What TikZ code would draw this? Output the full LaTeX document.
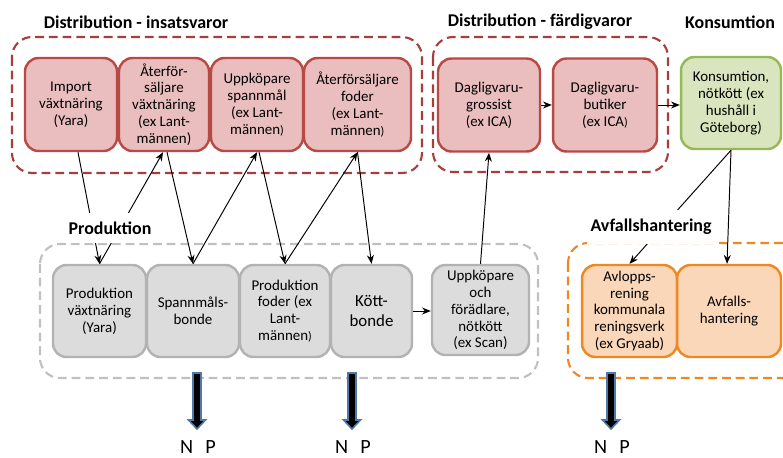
\documentclass[tikz,border=0pt]{standalone}
\usepackage{fontspec}
\setmainfont{Carlito}
\usetikzlibrary{arrows.meta}
\usetikzlibrary{calc}

\definecolor{redfill}{RGB}{234,190,190}
\definecolor{redline}{RGB}{184,74,70}
\definecolor{reddash}{RGB}{166,62,60}
\definecolor{grayfill}{RGB}{220,220,220}
\definecolor{grayline}{RGB}{178,178,178}
\definecolor{graydash}{RGB}{192,192,192}
\definecolor{greenfill}{RGB}{217,229,190}
\definecolor{greenline}{RGB}{152,184,86}
\definecolor{orangefill}{RGB}{251,215,185}
\definecolor{orangeline}{RGB}{238,136,32}
\definecolor{arrowblue}{RGB}{79,121,171}

\tikzset{
  box/.style={rounded corners=0.27cm, line width=1.4pt, align=center, inner sep=1pt,
    font=\fontsize{8.5}{9.6}\selectfont},
  redbox/.style={box, draw=redline, fill=redfill, minimum height=1.86cm},
  greenbox/.style={box, draw=greenline, fill=greenfill, minimum height=1.84cm},
  graybox/.style={box, draw=grayline, fill=grayfill, minimum height=1.84cm},
  orangebox/.style={box, draw=orangeline, fill=orangefill, minimum height=1.84cm},
  group/.style={rounded corners=0.4cm, line width=1.2pt, dash pattern=on 5pt off 2.8pt},
  grouptitle/.style={font=\fontsize{10.2}{12}\selectfont\bfseries, inner xsep=2pt, inner ysep=5pt},
  flow/.style={-{Stealth[length=5pt,width=4pt]}, line width=0.55pt},
  outlet/.style={draw=arrowblue, fill=black, line width=0.9pt, line join=miter},
  nutrient/.style={font=\fontsize{11.5}{13}\selectfont},
}

\begin{document}
\begin{tikzpicture}[x=0.02cm, y=-0.02cm]
\clip (0,0) rectangle (783,457);
% group frames
\draw[group, draw=reddash] (12,37) rectangle (422,173);
\draw[group, draw=reddash] (433,37) rectangle (668,172);
\draw[group, draw=graydash] (40,244) rectangle (538,378);
\draw[group, draw=orangeline] (568,243) rectangle (810,378);
% distribution - insatsvaror
\node[redbox, minimum width=1.84cm] (imp) at (71,104.5) {Import\\växtnäring\\(Yara)};
\node[redbox, minimum width=1.80cm] (afv) at (164,104.5) {Återför-\\säljare\\växtnäring\\(ex Lant-\\männen)};
\node[redbox, minimum width=1.84cm] (upps) at (257,104.5) {Uppköpare\\spannmål\\(ex Lant-\\männen{\scriptsize)}};
\node[redbox, minimum width=2.14cm] (aff) at (357.5,104.5) {Återförsäljare\\foder\\(ex Lant-\\männen{\scriptsize)}};
% distribution - färdigvaror
\node[redbox, minimum width=2.04cm] (gross) at (489,105) {Dagligvaru-\\grossist\\(ex ICA)};
\node[redbox, minimum width=2.08cm] (but) at (605,105) {Dagligvaru-\\butiker\\(ex ICA{\scriptsize)}};
% konsumtion
\node[greenbox, minimum width=2.00cm] (kons) at (731,103) {Konsumtion,\\nötkött (ex\\hushåll i\\Göteborg)};
% produktion
\node[graybox, minimum width=1.86cm] (pvx) at (99.5,311) {Produktion\\växtnäring\\(Yara)};
\node[graybox, minimum width=1.84cm] (spb) at (193,311) {Spannmåls-\\bonde};
\node[graybox, minimum width=1.80cm] (pfo) at (285,311) {Produktion\\foder (ex\\Lant-\\männen{\scriptsize)}};
\node[graybox, minimum width=1.62cm, font=\fontsize{9.6}{11.2}\selectfont] (kob) at (371.5,311) {Kött-\\bonde};
\node[graybox, minimum width=1.94cm, minimum height=1.80cm] (upf) at (480.5,310) {Uppköpare\\och\\förädlare,\\nötkött\\(ex Scan)};
% avfallshantering
\node[orangebox, minimum width=1.90cm] (avl) at (629.5,311) {Avlopps-\\rening\\kommunala\\reningsverk\\(ex Gryaab)};
\node[orangebox, minimum width=2.08cm] (avf) at (729,311) {Avfalls-\\hantering};
% flows
\draw[flow] ($(imp.south)+(7,0)$) to (pvx.north);
\draw[flow] (pvx.north) to ($(afv.south)+(-1,0)$);
\draw[flow] ($(afv.south)+(3,0)$) to (spb.north);
\draw[flow] (spb.north) to (upps.south);
\draw[flow] ($(upps.south)+(2,0)$) to (pfo.north);
\draw[flow] (pfo.north) to (aff.south);
\draw[flow] (aff.south) to (kob.north);
\draw[flow] (kob.east) to (kob.east -| upf.west);
\draw[flow] (upf.north) to (gross.south);
\draw[flow] (gross.east) to (gross.east -| but.west);
\draw[flow] (but.east) to (but.east -| kons.west);
\draw[flow] (kons.south) to (avl.north);
\draw[flow] (kons.south) to ($(avf.north)+(-2,0)$);
% titles
\node[grouptitle] (tins) at (136,22) {Distribution - insatsvaror};
\node[grouptitle] (tfar) at (540,22) {Distribution - färdigvaror};
\node[grouptitle] (tkons) at (730,22) {Konsumtion};
\node[grouptitle, fill=white] (tprod) at (110,228) {Produktion};
\node[grouptitle, fill=white] (tavf) at (651,227) {Avfallshantering};
% outlets
\coordinate (ut1) at (197,373);
\coordinate (ut2) at (352,373);
\coordinate (ut3) at (611,373);
\foreach \u in {ut1,ut2,ut3}
  \draw[outlet] ($(\u)+(-4,0)$) -- ($(\u)+(-4,47)$) -- ($(\u)+(-8.5,47)$) -- ($(\u)+(0,56)$)
    -- ($(\u)+(8.5,47)$) -- ($(\u)+(4,47)$) -- ($(\u)+(4,0)$) -- cycle;
\node[nutrient] (np1) at (198,447) {N\hspace{7pt}P};
\node[nutrient] (np2) at (353,447) {N\hspace{7pt}P};
\node[nutrient] (np3) at (612,447) {N\hspace{7pt}P};
\end{tikzpicture}
\end{document}
